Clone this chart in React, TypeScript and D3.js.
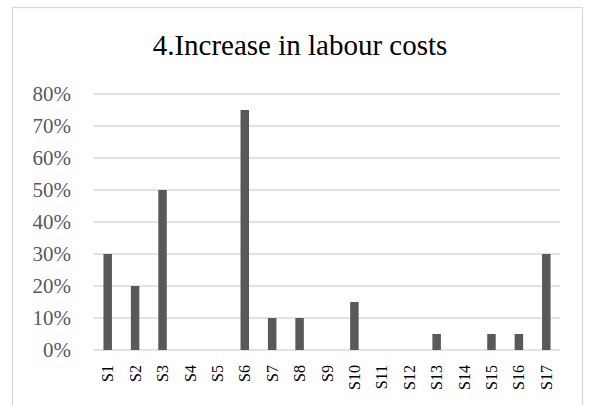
import React, { useEffect, useRef } from 'react';
import * as d3 from 'd3';

const categories = ['S1', 'S2', 'S3', 'S4', 'S5', 'S6', 'S7', 'S8', 'S9', 'S10', 'S11', 'S12', 'S13', 'S14', 'S15', 'S16', 'S17'];
const values = [0.3, 0.2, 0.5, 0, 0, 0.75, 0.1, 0.1, 0, 0.15, 0, 0, 0.05, 0, 0.05, 0.05, 0.3];
const yTicks = [0, 0.1, 0.2, 0.3, 0.4, 0.5, 0.6, 0.7, 0.8];
const title = '4.Increase in labour costs';

export default function App() {
  const svgRef = useRef<SVGSVGElement>(null);

  useEffect(() => {
    if (!svgRef.current) return;
    const width = 590, height = 405;
    const margin = { top: 94, right: 30, bottom: 55, left: 94 };

    const svg = d3.select(svgRef.current);
    svg.selectAll('*').remove();

    // chart frame
    svg.append('rect')
      .attr('x', 12.5).attr('y', 7.5)
      .attr('width', 570).attr('height', 420)
      .style('fill', '#fff')
      .style('stroke', '#d9d9d9')
      .style('stroke-width', 1.3);

    svg.append('text')
      .attr('x', 300).attr('y', 55)
      .attr('text-anchor', 'middle')
      .style('font-family', '"Liberation Serif", "Times New Roman", serif')
      .style('font-size', '29px')
      .style('fill', '#000')
      .text(title);

    const x = d3.scaleBand()
      .domain(categories)
      .range([margin.left, width - margin.right])
      .paddingInner(0.69)
      .paddingOuter(0.345);

    const y = d3.scaleLinear()
      .domain([0, 0.8])
      .range([height - margin.bottom, margin.top]);

    // gridlines
    svg.append('g')
      .selectAll('line')
      .data(yTicks)
      .enter().append('line')
      .attr('x1', margin.left).attr('x2', width - margin.right)
      .attr('y1', d => y(d)).attr('y2', d => y(d))
      .style('stroke', '#d9d9d9')
      .style('stroke-width', 1.3);

    // y labels
    svg.append('g')
      .selectAll('text')
      .data(yTicks)
      .enter().append('text')
      .attr('x', 71)
      .attr('y', d => y(d))
      .attr('dy', '0.35em')
      .attr('text-anchor', 'end')
      .style('font-family', '"Liberation Serif", "Times New Roman", serif')
      .style('font-size', '21px')
      .style('fill', '#595959')
      .text(d => d3.format('.0%')(d));

    // bars
    svg.append('g')
      .selectAll('rect')
      .data(values)
      .enter().append('rect')
      .attr('x', (d, i) => x(categories[i])!)
      .attr('width', x.bandwidth())
      .attr('y', d => y(d))
      .attr('height', d => y(0) - y(d))
      .style('fill', '#595959');

    // x labels
    svg.append('g')
      .selectAll('text')
      .data(categories)
      .enter().append('text')
      .attr('transform', d => `translate(${x(d)! + x.bandwidth() / 2}, ${y(0) + 15}) rotate(-90)`)
      .attr('dy', '0.35em')
      .attr('text-anchor', 'end')
      .style('font-family', '"Liberation Serif", "Times New Roman", serif')
      .style('font-size', '16px')
      .style('fill', '#000')
      .text(d => d);
  }, []);

  return (
    <svg
      ref={svgRef}
      width={590}
      height={405}
      style={{ position: 'absolute', left: 0, top: 0, display: 'block' }}
    />
  );
}
